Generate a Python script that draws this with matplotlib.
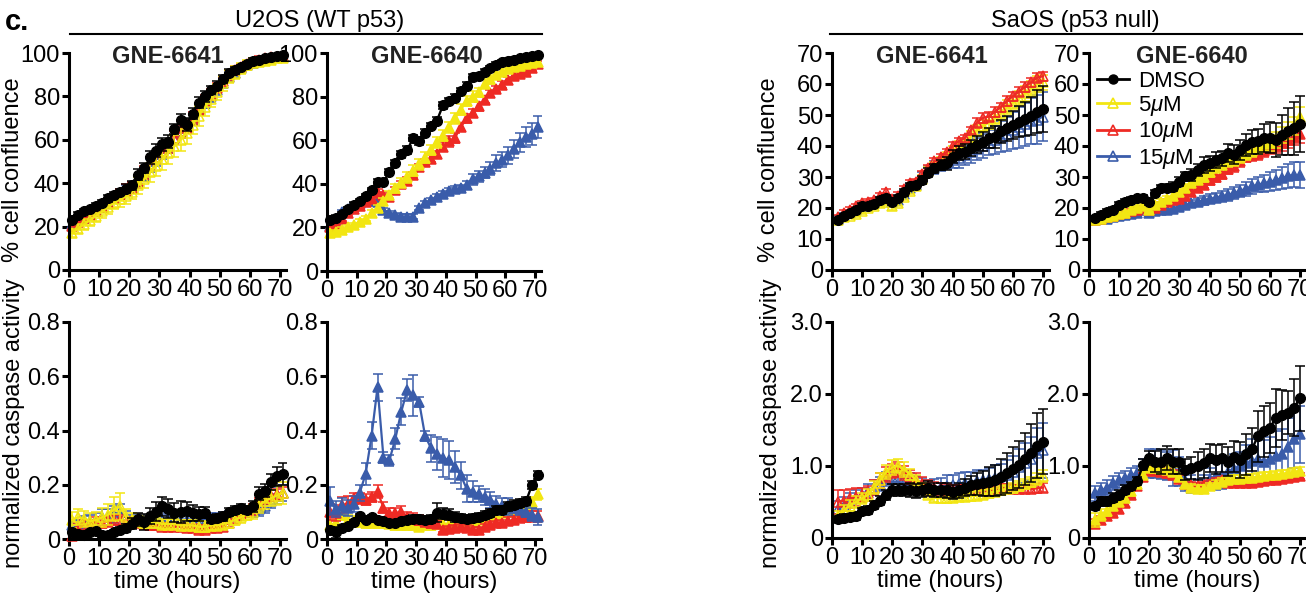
import matplotlib
matplotlib.use("Agg")
import matplotlib.pyplot as plt
from matplotlib.lines import Line2D

plt.rcParams['font.family'] = ['Liberation Sans', 'DejaVu Sans']
plt.rcParams['mathtext.fontset'] = 'custom'
plt.rcParams['mathtext.it'] = 'Liberation Sans:italic'
plt.rcParams['mathtext.rm'] = 'Liberation Sans'

W, H = 1306, 598

# time points (hours)
t_u2os = [1, 3, 5, 7, 9, 11, 13, 15, 17, 19, 21, 23, 25, 27, 29, 31, 33, 35,
          37, 39, 41, 43, 45, 47, 49, 51, 53, 55, 57, 59, 61, 63, 65, 67, 69, 71]
t_saos = [2, 4, 6, 8, 10, 12, 14, 16, 18, 20, 22, 24, 26, 28, 30, 32, 34, 36,
          38, 40, 42, 44, 46, 48, 50, 52, 54, 56, 58, 60, 62, 64, 66, 68, 70]

legend_labels = ['DMSO', '5$\\mu$M', '10$\\mu$M', '15$\\mu$M']

# ---- U2OS, % confluence, GNE-6641
u2os_conf_6641_dmso = [23, 25.5, 27, 28, 29.5, 31, 33, 34.5, 36, 37.5, 39, 44, 47, 52, 55, 58, 59, 65,
                       69, 67, 72, 77, 80, 83, 85, 88, 91, 92, 93.5, 95, 96.5, 97, 97.5, 98, 98.5, 99]
u2os_conf_6641_5 = [17, 19, 21, 23, 25, 27, 29, 31, 32.5, 34, 36, 39, 42, 45, 48, 51, 54, 57,
                    60, 63, 67, 71, 75, 79, 82, 86, 89, 91, 93, 94.5, 95.5, 96, 96.5, 97, 97.5, 97.5]
u2os_conf_6641_10 = [20.5, 22, 24, 25.5, 27, 29, 31, 33, 35, 37, 38, 41, 45, 49, 52, 55, 57, 61,
                     64, 66, 70, 74, 78, 81, 84, 87, 90, 92, 93.5, 95, 96, 97, 97.5, 98, 98, 98.5]
u2os_conf_6641_15 = [21, 22.5, 24, 26, 27.5, 29, 31, 33, 35, 36.5, 38, 41, 44, 48, 51, 54, 57, 61,
                     64, 66, 70, 74, 77, 80, 83, 86, 89, 91, 93, 94.5, 95.5, 96.5, 97, 97.5, 98, 98]
u2os_conf_6641_dmso_err = [1.2, 1, 1, 1, 1.2, 1.2, 1.5, 1.5, 1.5, 2, 2, 2.5, 2.5, 3, 3, 3, 3, 2.5,
                           3, 3, 2.5, 2.5, 2.5, 2, 2, 2, 1.5, 1.5, 1.2, 1, 1, 1, 1, 0.8, 0.8, 0.8]
u2os_conf_6641_5_err = [2, 2, 2.5, 2.5, 3, 3, 3, 3, 3.5, 3.5, 3.5, 4, 4, 4.5, 4.5, 5, 5, 5,
                        5, 5, 4.5, 4.5, 4, 4, 3.5, 3.5, 3, 3, 2.5, 2.5, 2, 2, 2, 2, 1.5, 1.5]
u2os_conf_6641_10_err = [1.5, 1.5, 1.5, 1.5, 2, 2, 2, 2, 2.5, 2.5, 2.5, 3, 3, 3, 3, 3, 3, 3,
                         3, 3, 3, 2.5, 2.5, 2.5, 2, 2, 2, 2, 1.5, 1.5, 1.5, 1.5, 1, 1, 1, 1]
u2os_conf_6641_15_err = [1.5, 1.5, 1.5, 1.5, 1.5, 2, 2, 2, 2, 2.5, 2.5, 2.5, 3, 3, 3, 3, 3, 3,
                         3, 3, 3, 2.5, 2.5, 2.5, 2, 2, 2, 2, 1.5, 1.5, 1.5, 1.5, 1, 1, 1, 1]

# ---- U2OS, % confluence, GNE-6640
u2os_conf_6640_dmso = [23.5, 24.5, 26, 28.5, 30.5, 32, 34.5, 37, 41, 41, 45.5, 49.5, 53.5, 55.5, 61, 59.5, 63.5, 66.5,
                       69, 76, 78, 79.5, 82.5, 85, 89, 89.5, 91.5, 93, 94.5, 96, 96.5, 97, 97.5, 98, 98.5, 99]
u2os_conf_6640_5 = [17.5, 18, 19, 20, 21, 22.5, 24, 26.5, 29, 32, 35, 38, 40.5, 43, 46, 49, 52, 55.5,
                    59, 62, 66, 70, 74, 78, 80, 82, 86, 88, 90, 91.5, 92.5, 93.5, 94, 95, 95.5, 96]
u2os_conf_6640_10 = [20, 21.5, 24, 26.5, 28.5, 30, 31.5, 33, 36, 35, 34, 37, 40, 41.5, 44, 47.5, 50, 51.5,
                     53.5, 57, 59.5, 61, 66, 70, 72.5, 75.5, 78.5, 81.5, 83.5, 85.5, 87.5, 89.5, 90.5, 91.5, 93, 95]
u2os_conf_6640_15 = [20.5, 24, 27, 28.5, 30, 31, 32, 32, 31.5, 28, 26.5, 25.5, 25, 25, 25, 29, 31, 32.5,
                     34, 35.5, 36.5, 37.5, 38, 39.5, 42, 43.5, 45, 47, 49.5, 51, 53, 56, 59, 61.5, 63, 66]
u2os_conf_6640_dmso_err = [1, 1, 1, 1, 1, 1, 1, 1.2, 1.2, 1.2, 1.5, 1.5, 1.5, 2, 1.5, 1.5, 1.5, 1.5,
                           1.5, 1.5, 1.5, 1.5, 1.5, 1.5, 1.5, 1.5, 1.2, 1.2, 1.2, 1, 1, 1, 1, 1, 1, 1]
u2os_conf_6640_5_err = [1, 1, 1, 1, 1, 1.2, 1.2, 1.5, 1.5, 1.5, 1.5, 2, 2, 2.5, 2.5, 2.5, 2.5, 2.5,
                        2.5, 2.5, 2.5, 2.5, 2.5, 2.5, 2.5, 2, 2, 2, 1.5, 1.5, 1.5, 1.5, 1.2, 1.2, 1.2, 1.2]
u2os_conf_6640_10_err = [1, 1, 1, 1, 1, 1, 1, 1.2, 1.5, 1.2, 1.2, 1.5, 1.5, 1.5, 1.5, 1.5, 1.5, 1.5,
                         1.5, 2, 2.5, 2.5, 2, 2, 2, 2, 1.5, 1.5, 1.5, 1.5, 1.5, 1.5, 1.2, 1.2, 1.2, 1.2]
u2os_conf_6640_15_err = [1, 1, 1, 1, 1, 1, 1, 1, 1, 1, 1, 1, 1, 1, 1, 1, 1, 1.2,
                         1.2, 1.2, 1.5, 1.5, 1.5, 2, 2.5, 2.5, 2.5, 3, 3.5, 3.5, 4, 4, 4.5, 4.5, 5, 5]

# ---- U2OS, caspase, GNE-6641
u2os_casp_6641_dmso = [0.025, 0.018, 0.016, 0.024, 0.028, 0.014, 0.014, 0.024, 0.033, 0.04, 0.057, 0.072,
                       0.063, 0.085, 0.1, 0.12, 0.112, 0.096, 0.1, 0.103, 0.096, 0.093, 0.097, 0.075,
                       0.077, 0.083, 0.098, 0.107, 0.113, 0.108, 0.12, 0.167, 0.178, 0.21, 0.232, 0.24]
u2os_casp_6641_5 = [0.07, 0.08, 0.075, 0.065, 0.07, 0.08, 0.09, 0.11, 0.12, 0.08, 0.07, 0.065,
                    0.06, 0.06, 0.06, 0.055, 0.055, 0.055, 0.05, 0.05, 0.05, 0.045, 0.045, 0.05,
                    0.05, 0.055, 0.06, 0.07, 0.08, 0.09, 0.1, 0.12, 0.14, 0.15, 0.16, 0.17]
u2os_casp_6641_10 = [0.01, 0.04, 0.05, 0.05, 0.06, 0.06, 0.065, 0.07, 0.07, 0.06, 0.06, 0.06,
                     0.055, 0.05, 0.05, 0.045, 0.045, 0.045, 0.045, 0.04, 0.04, 0.035, 0.035, 0.04,
                     0.04, 0.045, 0.06, 0.075, 0.09, 0.1, 0.11, 0.13, 0.15, 0.16, 0.165, 0.17]
u2os_casp_6641_15 = [0.05, 0.05, 0.06, 0.065, 0.07, 0.08, 0.08, 0.09, 0.1, 0.08, 0.07, 0.065,
                     0.06, 0.065, 0.07, 0.07, 0.075, 0.075, 0.07, 0.07, 0.07, 0.07, 0.075, 0.075,
                     0.075, 0.08, 0.085, 0.09, 0.09, 0.1, 0.1, 0.11, 0.12, 0.14, 0.16, 0.17]
u2os_casp_6641_dmso_err = [0.01, 0.01, 0.01, 0.01, 0.01, 0.01, 0.01, 0.01, 0.01, 0.015, 0.02, 0.025,
                           0.03, 0.03, 0.035, 0.035, 0.035, 0.035, 0.04, 0.035, 0.03, 0.025, 0.02, 0.015,
                           0.015, 0.015, 0.015, 0.015, 0.015, 0.015, 0.02, 0.025, 0.025, 0.03, 0.035, 0.04]
u2os_casp_6641_5_err = [0.03, 0.03, 0.03, 0.03, 0.03, 0.035, 0.04, 0.045, 0.05, 0.03, 0.025, 0.02,
                        0.02, 0.02, 0.02, 0.02, 0.02, 0.02, 0.02, 0.02, 0.02, 0.02, 0.02, 0.02,
                        0.02, 0.02, 0.02, 0.02, 0.02, 0.02, 0.025, 0.025, 0.03, 0.03, 0.035, 0.04]
u2os_casp_6641_10_err = [0.015, 0.02, 0.02, 0.02, 0.02, 0.02, 0.02, 0.02, 0.02, 0.02, 0.015, 0.015,
                         0.015, 0.015, 0.015, 0.015, 0.015, 0.015, 0.015, 0.015, 0.015, 0.015, 0.015, 0.015,
                         0.015, 0.015, 0.015, 0.015, 0.015, 0.015, 0.02, 0.02, 0.02, 0.02, 0.02, 0.02]
u2os_casp_6641_15_err = [0.02, 0.02, 0.025, 0.025, 0.025, 0.03, 0.03, 0.03, 0.03, 0.025, 0.02, 0.02,
                         0.02, 0.02, 0.02, 0.02, 0.02, 0.02, 0.02, 0.02, 0.02, 0.02, 0.02, 0.02,
                         0.02, 0.02, 0.02, 0.02, 0.02, 0.02, 0.02, 0.025, 0.025, 0.025, 0.03, 0.03]

# ---- U2OS, caspase, GNE-6640
u2os_casp_6640_dmso = [0.034, 0.025, 0.04, 0.047, 0.061, 0.083, 0.071, 0.08, 0.071, 0.065, 0.059, 0.059,
                       0.065, 0.071, 0.074, 0.074, 0.071, 0.074, 0.096, 0.093, 0.09, 0.081, 0.077, 0.074,
                       0.077, 0.08, 0.09, 0.096, 0.108, 0.108, 0.12, 0.127, 0.133, 0.14, 0.2, 0.237]
u2os_casp_6640_5 = [0.05, 0.06, 0.09, 0.07, 0.065, 0.065, 0.06, 0.06, 0.06, 0.06, 0.055, 0.05,
                    0.05, 0.05, 0.05, 0.045, 0.05, 0.05, 0.055, 0.055, 0.055, 0.06, 0.055, 0.06,
                    0.065, 0.07, 0.075, 0.085, 0.09, 0.095, 0.1, 0.105, 0.11, 0.12, 0.135, 0.165]
u2os_casp_6640_10 = [0.1, 0.095, 0.125, 0.13, 0.15, 0.15, 0.145, 0.155, 0.175, 0.115, 0.095, 0.095,
                     0.1, 0.08, 0.075, 0.07, 0.065, 0.06, 0.055, 0.035, 0.037, 0.04, 0.045, 0.04,
                     0.034, 0.035, 0.045, 0.052, 0.058, 0.06, 0.065, 0.07, 0.08, 0.082, 0.083, 0.083]
u2os_casp_6640_15 = [0.14, 0.11, 0.12, 0.115, 0.13, 0.17, 0.24, 0.38, 0.56, 0.3, 0.29, 0.37,
                     0.47, 0.55, 0.53, 0.505, 0.38, 0.335, 0.315, 0.3, 0.29, 0.265, 0.235, 0.185,
                     0.175, 0.165, 0.155, 0.145, 0.13, 0.12, 0.12, 0.115, 0.11, 0.1, 0.09, 0.08]
u2os_casp_6640_dmso_err = [0.01, 0.02, 0.01, 0.01, 0.01, 0.01, 0.01, 0.01, 0.01, 0.01, 0.01, 0.01,
                           0.01, 0.01, 0.015, 0.015, 0.015, 0.015, 0.035, 0.02, 0.02, 0.02, 0.015, 0.015,
                           0.015, 0.015, 0.015, 0.015, 0.015, 0.015, 0.015, 0.015, 0.015, 0.015, 0.015, 0.015]
u2os_casp_6640_5_err = [0.02, 0.02, 0.02, 0.02, 0.02, 0.02, 0.02, 0.02, 0.02, 0.02, 0.015, 0.015,
                        0.015, 0.015, 0.015, 0.015, 0.015, 0.015, 0.015, 0.015, 0.015, 0.015, 0.015, 0.015,
                        0.015, 0.015, 0.015, 0.015, 0.015, 0.015, 0.015, 0.015, 0.02, 0.02, 0.02, 0.02]
u2os_casp_6640_10_err = [0.03, 0.03, 0.03, 0.03, 0.02, 0.02, 0.02, 0.02, 0.025, 0.02, 0.02, 0.02,
                         0.02, 0.02, 0.02, 0.02, 0.02, 0.02, 0.01, 0.01, 0.01, 0.01, 0.01, 0.01,
                         0.01, 0.01, 0.01, 0.01, 0.01, 0.01, 0.015, 0.015, 0.02, 0.02, 0.02, 0.02]
u2os_casp_6640_15_err = [0.05, 0.03, 0.03, 0.03, 0.03, 0.03, 0.04, 0.05, 0.05, 0.02, 0.02, 0.04,
                         0.05, 0.04, 0.075, 0.02, 0.02, 0.05, 0.06, 0.07, 0.07, 0.06, 0.05, 0.05,
                         0.04, 0.03, 0.03, 0.03, 0.03, 0.03, 0.03, 0.02, 0.02, 0.02, 0.025, 0.03]

# ---- SaOS, % confluence, GNE-6641
saos_conf_6641_dmso = [16, 17.4, 18.3, 19.2, 20.7, 20.7, 21.3, 22.6, 23.1, 22, 23.1, 25, 27.2, 27.4, 29, 31.4, 32.8, 33.9,
                       34.4, 36.6, 37.7, 38.2, 39.3, 40.4, 41.4, 42.5, 43, 44.7, 45.7, 46.8, 47.9, 48.7, 49.7, 51.1, 51.9]
saos_conf_6641_5 = [16, 17, 17.5, 18, 19, 20, 20.5, 21.5, 22, 20.5, 21.5, 23.5, 25.5, 27, 29.5, 32, 33.5, 35,
                    36.5, 38.5, 40, 41, 43, 45, 46.5, 47.5, 49, 50.5, 52.5, 54, 55.5, 57, 58.5, 60, 60.5]
saos_conf_6641_10 = [17, 18.5, 19.5, 20.5, 21.5, 22, 22.5, 24, 25, 23, 24, 26, 28, 28.5, 31, 33, 35, 36.5,
                     38, 40, 41.5, 42.5, 45, 47.5, 49, 49.5, 51, 52.5, 54.5, 56, 57.5, 59, 60.5, 62, 62.5]
saos_conf_6641_15 = [16.5, 17.5, 18.5, 19.5, 20.5, 21, 21.5, 22.5, 23, 22, 22.5, 24.5, 26.5, 27.5, 30, 32, 33, 34,
                     35, 35.5, 36, 37, 38, 39, 40, 41, 42, 43, 44, 45, 46, 47, 48, 48.5, 49.5]
saos_conf_6641_dmso_err = [0.8, 0.8, 0.8, 0.8, 0.8, 0.8, 0.8, 1, 1, 1, 1, 1, 1, 1, 1.2, 1.5, 1.5, 1.5,
                           2, 2, 2.2, 2.5, 2.5, 2.8, 3, 3.2, 3.5, 3.8, 4, 4.5, 5, 5.5, 6, 7, 7.5]
saos_conf_6641_5_err = [0.8, 0.8, 0.8, 0.8, 0.8, 0.8, 0.8, 1, 1, 1, 1, 1, 1, 1, 1.2, 1.2, 1.2, 1.5,
                        1.5, 1.5, 1.5, 1.5, 1.8, 1.8, 1.8, 2, 2, 2, 2.2, 2.2, 2.2, 2.5, 2.5, 2.5, 2.5]
saos_conf_6641_10_err = [0.8, 0.8, 0.8, 0.8, 0.8, 0.8, 0.8, 0.8, 1, 1, 1, 1, 1, 1, 1, 1, 1, 1,
                         1, 1.2, 1.2, 1.2, 1.2, 1.5, 1.5, 1.5, 1.5, 1.5, 1.5, 1.5, 1.5, 1.5, 1.5, 1.5, 1.5]
saos_conf_6641_15_err = [0.8, 0.8, 0.8, 0.8, 0.8, 0.8, 0.8, 1, 1, 1, 1, 1, 1.2, 1.2, 1.5, 1.5, 2, 2,
                         2.5, 2.5, 3, 3, 3.5, 3.5, 4, 4, 4.5, 5, 5.5, 6, 6.5, 7, 7.5, 8, 8]

# ---- SaOS, % confluence, GNE-6640
saos_conf_6640_dmso = [16.7, 17.8, 18.8, 19.4, 21, 22, 22.6, 23.1, 23.1, 22, 24.8, 26.4, 26.4, 26.9, 28.5, 30.2, 30.7, 32.3,
                       33.9, 34.4, 35.5, 36, 37.7, 37.2, 38.8, 40.4, 41.2, 41.5, 42.6, 42.6, 42, 43.6, 44.7, 45.7, 47.1]
saos_conf_6640_5 = [16, 16.5, 17, 17.5, 18, 18.5, 19.5, 20, 20.5, 19.5, 21, 22, 23, 24, 25, 26.5, 28, 29,
                    30, 31.5, 33, 34, 35, 35.5, 36.5, 37.5, 38.5, 39.5, 40.5, 41, 42, 43.5, 45, 46.5, 49.5]
saos_conf_6640_10 = [16, 16.5, 17, 17.5, 18, 18.5, 19, 19.5, 20, 19.5, 20, 21, 22, 22.5, 23, 24, 25, 26.5,
                     27.5, 29, 30, 31, 32.5, 33.5, 35, 36.5, 37, 37.5, 38.5, 39.5, 40, 41, 42, 43, 44]
saos_conf_6640_15 = [16, 16.3, 16.6, 17, 17.3, 17.6, 18, 18.3, 19.5, 18.3, 19, 19.5, 19.5, 19.8, 20.3, 21, 21.5, 22,
                     22.5, 23, 23.3, 23.8, 24.2, 24.8, 25.5, 26.2, 27, 27.5, 28, 28.5, 29, 29.6, 30.3, 30.8, 30.5]
saos_conf_6640_dmso_err = [0.8, 0.8, 0.8, 0.8, 0.8, 0.8, 0.8, 0.8, 1, 1, 1, 1, 1.2, 1.5, 1.5, 1.5, 2, 2,
                           2.5, 2.5, 2.5, 2.5, 2.8, 3, 3.2, 3.5, 3.8, 4, 4.5, 5, 5.5, 6.5, 7.5, 8.5, 9]
saos_conf_6640_5_err = [0.8, 0.8, 0.8, 0.8, 0.8, 0.8, 0.8, 0.8, 0.8, 0.8, 1, 1, 1, 1, 1, 1.2, 1.2, 1.2,
                        1.5, 1.5, 1.5, 1.5, 1.8, 1.8, 2, 2, 2, 2.2, 2.2, 2.5, 2.5, 2.5, 2.8, 3, 3]
saos_conf_6640_10_err = [0.8, 0.8, 0.8, 0.8, 0.8, 0.8, 0.8, 0.8, 0.8, 0.8, 1, 1, 1, 1, 1, 1, 1.2, 1.2,
                         1.2, 1.5, 1.5, 1.5, 1.5, 1.8, 1.8, 1.8, 2, 2, 2, 2.2, 2.2, 2.5, 2.5, 2.8, 3]
saos_conf_6640_15_err = [0.8, 0.8, 0.8, 0.8, 0.8, 0.8, 0.8, 0.8, 0.8, 0.8, 0.8, 1, 1, 1, 1, 1.2, 1.2, 1.2,
                         1.5, 1.5, 1.5, 1.8, 1.8, 2, 2, 2.2, 2.5, 2.5, 2.8, 3, 3.2, 3.5, 3.8, 4, 4.2]

# ---- SaOS, caspase, GNE-6641
saos_casp_6641_dmso = [0.26, 0.28, 0.29, 0.3, 0.37, 0.39, 0.46, 0.52, 0.6, 0.67, 0.67, 0.67, 0.67, 0.65, 0.67, 0.69, 0.67, 0.67,
                       0.66, 0.64, 0.66, 0.7, 0.73, 0.75, 0.76, 0.78, 0.8, 0.85, 0.9, 0.96, 1.02, 1.1, 1.18, 1.28, 1.34]
saos_casp_6641_5 = [0.3, 0.38, 0.45, 0.5, 0.55, 0.6, 0.7, 0.8, 0.92, 0.98, 1.0, 0.95, 0.88, 0.8, 0.7, 0.6, 0.56, 0.55,
                    0.55, 0.56, 0.57, 0.57, 0.58, 0.59, 0.6, 0.62, 0.64, 0.66, 0.68, 0.7, 0.72, 0.75, 0.78, 0.82, 0.86]
saos_casp_6641_10 = [0.5, 0.52, 0.55, 0.57, 0.6, 0.62, 0.7, 0.8, 0.88, 0.93, 0.95, 0.9, 0.85, 0.8, 0.75, 0.7, 0.7, 0.68,
                     0.67, 0.66, 0.66, 0.66, 0.67, 0.68, 0.68, 0.68, 0.69, 0.69, 0.69, 0.68, 0.68, 0.68, 0.68, 0.69, 0.7]
saos_casp_6641_15 = [0.4, 0.45, 0.5, 0.55, 0.6, 0.65, 0.7, 0.75, 0.82, 0.85, 0.85, 0.83, 0.8, 0.76, 0.73, 0.7, 0.7, 0.71,
                     0.72, 0.73, 0.75, 0.76, 0.77, 0.79, 0.8, 0.82, 0.84, 0.86, 0.88, 0.92, 0.98, 1.04, 1.1, 1.18, 1.22]
saos_casp_6641_dmso_err = [0.05, 0.05, 0.05, 0.05, 0.05, 0.05, 0.06, 0.06, 0.07, 0.08, 0.08, 0.08, 0.1, 0.1, 0.1, 0.1, 0.1, 0.1,
                           0.1, 0.1, 0.1, 0.12, 0.13, 0.15, 0.17, 0.2, 0.22, 0.25, 0.28, 0.3, 0.33, 0.36, 0.4, 0.45, 0.45]
saos_casp_6641_5_err = [0.08, 0.08, 0.08, 0.08, 0.08, 0.08, 0.09, 0.1, 0.1, 0.1, 0.1, 0.1, 0.08, 0.08, 0.07, 0.06, 0.06, 0.06,
                        0.06, 0.06, 0.06, 0.06, 0.06, 0.06, 0.06, 0.06, 0.06, 0.06, 0.06, 0.07, 0.07, 0.07, 0.07, 0.08, 0.08]
saos_casp_6641_10_err = [0.17, 0.15, 0.13, 0.12, 0.1, 0.1, 0.1, 0.1, 0.1, 0.1, 0.1, 0.1, 0.1, 0.1, 0.1, 0.1, 0.08, 0.08,
                         0.08, 0.08, 0.08, 0.08, 0.08, 0.08, 0.08, 0.08, 0.08, 0.06, 0.06, 0.06, 0.06, 0.06, 0.06, 0.06, 0.06]
saos_casp_6641_15_err = [0.12, 0.12, 0.12, 0.12, 0.1, 0.1, 0.1, 0.1, 0.1, 0.1, 0.1, 0.1, 0.1, 0.1, 0.1, 0.1, 0.12, 0.12,
                         0.15, 0.15, 0.15, 0.15, 0.15, 0.15, 0.15, 0.15, 0.17, 0.17, 0.2, 0.22, 0.25, 0.28, 0.3, 0.35, 0.38]

# ---- SaOS, caspase, GNE-6640
saos_casp_6640_dmso = [0.44, 0.51, 0.51, 0.56, 0.6, 0.67, 0.72, 0.79, 1.02, 1.11, 1.06, 1.06, 1.11, 1.06, 1.06, 0.95, 0.97, 1.0,
                       1.04, 1.11, 1.09, 1.11, 1.06, 1.13, 1.09, 1.16, 1.23, 1.41, 1.48, 1.53, 1.67, 1.71, 1.74, 1.81, 1.94]
saos_casp_6640_5 = [0.25, 0.32, 0.38, 0.45, 0.5, 0.56, 0.65, 0.75, 0.88, 0.97, 0.97, 0.96, 0.95, 0.92, 0.85, 0.75, 0.7, 0.68,
                    0.68, 0.72, 0.75, 0.78, 0.8, 0.82, 0.82, 0.83, 0.84, 0.85, 0.86, 0.87, 0.88, 0.89, 0.9, 0.92, 0.93]
saos_casp_6640_10 = [0.2, 0.25, 0.3, 0.35, 0.4, 0.48, 0.6, 0.72, 0.85, 0.93, 0.93, 0.92, 0.9, 0.88, 0.82, 0.75, 0.73, 0.72,
                     0.73, 0.75, 0.78, 0.8, 0.77, 0.76, 0.76, 0.76, 0.77, 0.78, 0.79, 0.8, 0.81, 0.82, 0.83, 0.85, 0.86]
saos_casp_6640_15 = [0.62, 0.66, 0.7, 0.76, 0.8, 0.83, 0.87, 0.9, 0.95, 1.03, 1.04, 1.02, 1.0, 0.97, 0.92, 0.8, 0.75, 0.72,
                     0.75, 0.82, 0.86, 0.88, 0.92, 0.96, 1.0, 1.04, 1.07, 1.1, 1.06, 1.1, 1.14, 1.16, 1.27, 1.37, 1.44]
saos_casp_6640_dmso_err = [0.05, 0.06, 0.06, 0.06, 0.06, 0.06, 0.06, 0.06, 0.08, 0.1, 0.15, 0.17, 0.17, 0.17, 0.17, 0.15, 0.15, 0.2,
                           0.2, 0.2, 0.2, 0.2, 0.2, 0.22, 0.25, 0.28, 0.3, 0.35, 0.35, 0.35, 0.4, 0.35, 0.3, 0.4, 0.45]
saos_casp_6640_5_err = [0.1, 0.08, 0.07, 0.06, 0.06, 0.06, 0.06, 0.06, 0.06, 0.06, 0.06, 0.06, 0.06, 0.06, 0.06, 0.06, 0.05, 0.05,
                        0.05, 0.05, 0.05, 0.05, 0.05, 0.05, 0.05, 0.05, 0.05, 0.05, 0.05, 0.05, 0.05, 0.05, 0.05, 0.05, 0.05]
saos_casp_6640_10_err = [0.06, 0.05, 0.05, 0.05, 0.05, 0.05, 0.05, 0.05, 0.05, 0.06, 0.06, 0.06, 0.06, 0.06, 0.06, 0.05, 0.05, 0.05,
                         0.05, 0.05, 0.05, 0.05, 0.04, 0.04, 0.04, 0.04, 0.04, 0.04, 0.04, 0.04, 0.04, 0.04, 0.04, 0.04, 0.04]
saos_casp_6640_15_err = [0.1, 0.1, 0.1, 0.1, 0.1, 0.1, 0.1, 0.1, 0.15, 0.2, 0.2, 0.2, 0.2, 0.25, 0.2, 0.15, 0.12, 0.1,
                         0.12, 0.15, 0.2, 0.2, 0.2, 0.2, 0.2, 0.25, 0.3, 0.3, 0.3, 0.3, 0.35, 0.35, 0.4, 0.4, 0.4]

BLACK = '#000000'
YELLOW = '#F2E612'
RED = '#EE2A24'
BLUE = '#3A5CAA'

fig = plt.figure(figsize=(W / 100, H / 100), dpi=100)


def px_axes(left, right, top, bottom):
    return fig.add_axes([left / W, 1 - bottom / H, (right - left) / W, (bottom - top) / H])


def draw_panel(ax, t, series, filled, ymax, yticks, yticklabels):
    # series given as (values, errors, color, marker), drawn back to front
    for vals, errs, color, marker in series:
        ax.errorbar(t, vals, yerr=errs, fmt='none', ecolor=color, elinewidth=1.1,
                    capsize=3.5, capthick=1.1)
        if marker == 'o':
            ax.plot(t, vals, color=color, lw=1.7, marker='o', ms=7, mfc=color, mec=color, clip_on=False)
        else:
            ax.plot(t, vals, color=color, lw=1.6, marker='^', ms=7,
                    mfc=color if filled else 'none', mec=color, mew=1.1, clip_on=False)
    ax.set_xlim(0, 72)
    ax.set_ylim(0, ymax)
    ax.set_xticks([0, 10, 20, 30, 40, 50, 60, 70])
    ax.set_yticks(yticks)
    ax.set_yticklabels(yticklabels)
    for s in ['top', 'right']:
        ax.spines[s].set_visible(False)
    for s in ['left', 'bottom']:
        ax.spines[s].set_linewidth(2.2)
    ax.tick_params(direction='out', length=5, width=2.2, labelsize=17, pad=1.5)
    ax.patch.set_alpha(0)


conf_ticks = [0, 20, 40, 60, 80, 100]
conf_labels = ['0', '20', '40', '60', '80', '100']
u2os_casp_ticks = [0, 0.2, 0.4, 0.6, 0.8]
u2os_casp_labels = ['0', '0.2', '0.4', '0.6', '0.8']
saos_conf_ticks = [0, 10, 20, 30, 40, 50, 60, 70]
saos_conf_labels = ['0', '10', '20', '30', '40', '50', '60', '70']
saos_casp_ticks = [0, 1, 2, 3]
saos_casp_labels = ['0', '1.0', '2.0', '3.0']

ax_a = px_axes(69, 286, 53, 270)
draw_panel(ax_a, t_u2os, [
    (u2os_conf_6641_15, u2os_conf_6641_15_err, BLUE, '^'),
    (u2os_conf_6641_10, u2os_conf_6641_10_err, RED, '^'),
    (u2os_conf_6641_5, u2os_conf_6641_5_err, YELLOW, '^'),
    (u2os_conf_6641_dmso, u2os_conf_6641_dmso_err, BLACK, 'o')], False, 100, conf_ticks, conf_labels)

ax_b = px_axes(327, 541, 53, 271)
draw_panel(ax_b, t_u2os, [
    (u2os_conf_6640_15, u2os_conf_6640_15_err, BLUE, '^'),
    (u2os_conf_6640_10, u2os_conf_6640_10_err, RED, '^'),
    (u2os_conf_6640_5, u2os_conf_6640_5_err, YELLOW, '^'),
    (u2os_conf_6640_dmso, u2os_conf_6640_dmso_err, BLACK, 'o')], True, 100, conf_ticks, conf_labels)

ax_c = px_axes(69, 286, 322, 539)
draw_panel(ax_c, t_u2os, [
    (u2os_casp_6641_15, u2os_casp_6641_15_err, BLUE, '^'),
    (u2os_casp_6641_10, u2os_casp_6641_10_err, RED, '^'),
    (u2os_casp_6641_5, u2os_casp_6641_5_err, YELLOW, '^'),
    (u2os_casp_6641_dmso, u2os_casp_6641_dmso_err, BLACK, 'o')], False, 0.8, u2os_casp_ticks, u2os_casp_labels)

ax_d = px_axes(327, 541, 322, 539)
draw_panel(ax_d, t_u2os, [
    (u2os_casp_6640_5, u2os_casp_6640_5_err, YELLOW, '^'),
    (u2os_casp_6640_10, u2os_casp_6640_10_err, RED, '^'),
    (u2os_casp_6640_15, u2os_casp_6640_15_err, BLUE, '^'),
    (u2os_casp_6640_dmso, u2os_casp_6640_dmso_err, BLACK, 'o')], True, 0.8, u2os_casp_ticks, u2os_casp_labels)

ax_e = px_axes(832, 1049, 53, 270)
draw_panel(ax_e, t_saos, [
    (saos_conf_6641_15, saos_conf_6641_15_err, BLUE, '^'),
    (saos_conf_6641_5, saos_conf_6641_5_err, YELLOW, '^'),
    (saos_conf_6641_10, saos_conf_6641_10_err, RED, '^'),
    (saos_conf_6641_dmso, saos_conf_6641_dmso_err, BLACK, 'o')], False, 70, saos_conf_ticks, saos_conf_labels)

ax_f = px_axes(1089, 1306, 53, 270)
draw_panel(ax_f, t_saos, [
    (saos_conf_6640_15, saos_conf_6640_15_err, BLUE, '^'),
    (saos_conf_6640_10, saos_conf_6640_10_err, RED, '^'),
    (saos_conf_6640_5, saos_conf_6640_5_err, YELLOW, '^'),
    (saos_conf_6640_dmso, saos_conf_6640_dmso_err, BLACK, 'o')], True, 70, saos_conf_ticks, saos_conf_labels)

ax_g = px_axes(832, 1049, 322, 538)
draw_panel(ax_g, t_saos, [
    (saos_casp_6641_15, saos_casp_6641_15_err, BLUE, '^'),
    (saos_casp_6641_10, saos_casp_6641_10_err, RED, '^'),
    (saos_casp_6641_5, saos_casp_6641_5_err, YELLOW, '^'),
    (saos_casp_6641_dmso, saos_casp_6641_dmso_err, BLACK, 'o')], False, 3, saos_casp_ticks, saos_casp_labels)

ax_h = px_axes(1089, 1306, 322, 538)
draw_panel(ax_h, t_saos, [
    (saos_casp_6640_15, saos_casp_6640_15_err, BLUE, '^'),
    (saos_casp_6640_10, saos_casp_6640_10_err, RED, '^'),
    (saos_casp_6640_5, saos_casp_6640_5_err, YELLOW, '^'),
    (saos_casp_6640_dmso, saos_casp_6640_dmso_err, BLACK, 'o')], True, 3, saos_casp_ticks, saos_casp_labels)

for ax in [ax_c, ax_d, ax_g, ax_h]:
    ax.set_xlabel('time (hours)', fontsize=17, labelpad=1)

# panel titles
for xc, name in [(168, 'GNE-6641'), (427, 'GNE-6640'), (932, 'GNE-6641'), (1192, 'GNE-6640')]:
    fig.text(xc / W, 1 - 63 / H, name, ha='center', va='baseline', fontsize=17,
             fontweight='bold', color='#222222')

# y axis labels
fig.text(13 / W, 1 - 170 / H, '% cell confluence', rotation=90, ha='center', va='center', fontsize=17)
fig.text(14 / W, 1 - 423 / H, 'normalized caspase activity', rotation=90, ha='center', va='center', fontsize=17)
fig.text(769 / W, 1 - 170 / H, '% cell confluence', rotation=90, ha='center', va='center', fontsize=17)
fig.text(771 / W, 1 - 423 / H, 'normalized caspase activity', rotation=90, ha='center', va='center', fontsize=17)

# group headers
fig.text(5 / W, 1 - 30 / H, 'c.', ha='left', va='baseline', fontsize=21, fontweight='bold')
fig.text(320 / W, 1 - 27 / H, 'U2OS (WT p53)', ha='center', va='baseline', fontsize=17)
fig.text(1075 / W, 1 - 27 / H, 'SaOS (p53 null)', ha='center', va='baseline', fontsize=17)
fig.add_artist(Line2D([70 / W, 542 / W], [1 - 34 / H, 1 - 34 / H], transform=fig.transFigure, color='black', lw=1.5))
fig.add_artist(Line2D([830 / W, 1302 / W], [1 - 34 / H, 1 - 34 / H], transform=fig.transFigure, color='black', lw=1.5))

# legend
handles = [Line2D([], [], color=BLACK, lw=2, marker='o', ms=6.5),
           Line2D([], [], color=YELLOW, lw=2, marker='^', ms=7, mfc='none', mew=1.2),
           Line2D([], [], color=RED, lw=2, marker='^', ms=7, mfc='none', mew=1.2),
           Line2D([], [], color=BLUE, lw=2, marker='^', ms=7, mfc='none', mew=1.2)]
ax_f.legend(handles, legend_labels, loc='upper left', bbox_to_anchor=(1097 / W, 1 - 71 / H),
            bbox_transform=fig.transFigure, frameon=False, fontsize=16, handlelength=1.45,
            handletextpad=0.4, labelspacing=0.1, borderpad=0, borderaxespad=0)

fig.savefig('out.png', dpi=100)
